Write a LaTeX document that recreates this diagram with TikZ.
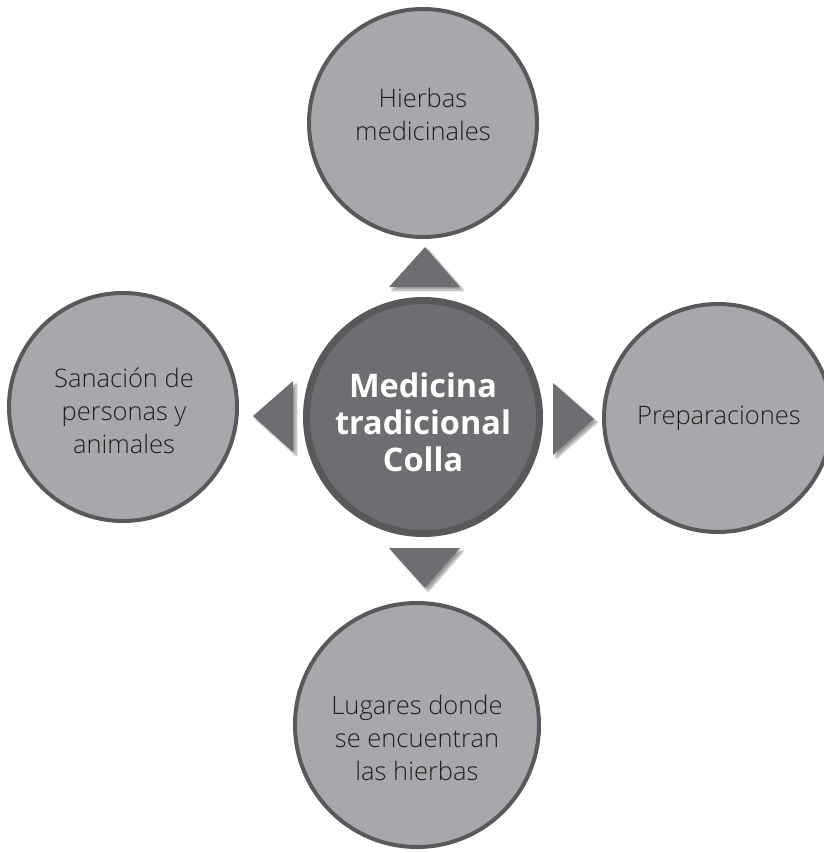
\documentclass[tikz,border=0pt]{standalone}
\usepackage{fontspec}
\setmainfont{Open Sans}[UprightFont=* Light, BoldFont=* Bold]
\usetikzlibrary{shadows.blur}
\definecolor{outerfill}{HTML}{A7A8AB}
\definecolor{outerline}{HTML}{58595B}
\definecolor{centerfill}{HTML}{6D6E71}
\definecolor{centerline}{HTML}{58595B}
\definecolor{txt}{HTML}{231F20}
\tikzset{
  outer/.style={circle, fill=outerfill, draw=outerline, line width=4pt, inner sep=0pt},
  centre/.style={circle, fill=centerfill, draw=centerline, line width=7pt, inner sep=0pt},
  lbl/.style={align=center, text=txt, font=\fontsize{25.5}{33}\selectfont},
  clbl/.style={align=center, text=white, font=\fontsize{32.5}{37}\selectfont\bfseries},
  tri/.style={fill=centerfill, blur shadow={shadow xshift=3pt, shadow yshift=-3pt, shadow blur steps=8, shadow opacity=40}},
}
\begin{document}
\begin{tikzpicture}[x=1pt,y=-1pt]
\useasboundingbox (0,0) rectangle (823,853);
% circles
\node[outer, minimum size=228pt] (top) at (423,123) {};
\node[outer, minimum size=228pt] (left) at (123,407) {};
\node[outer, minimum size=228pt] (right) at (718,418) {};
\node[outer, minimum size=244pt] (bottom) at (417,725) {};
\node[centre, minimum size=233pt] (centre) at (423,417) {};
% labels
\node[lbl] (tlbl) at (423,114) {Hierbas\\medicinales};
\node[lbl] (llbl) at (124,411) {Sanación de\\personas y\\animales};
\node[lbl] (rlbl) at (719,418) {Preparaciones};
\node[lbl] (blbl) at (417,738) {Lugares donde\\se encuentran\\las hierbas};
\node[clbl] (clbl) at (423,422) {Medicina\\tradicional\\Colla};
% triangles
\coordinate (tu) at (425,247);
\coordinate (td) at (425,588);
\coordinate (tl) at (253,416);
\coordinate (tr) at (594,419);
\fill[tri] (tu) -- ++(35,40) -- ++(-71,0) -- cycle;
\fill[tri] (td) -- ++(35,-40) -- ++(-71,0) -- cycle;
\fill[tri] (tl) -- ++(40,-35) -- ++(0,71) -- cycle;
\fill[tri] (tr) -- ++(-41,-36) -- ++(0,72) -- cycle;
\end{tikzpicture}
\end{document}
